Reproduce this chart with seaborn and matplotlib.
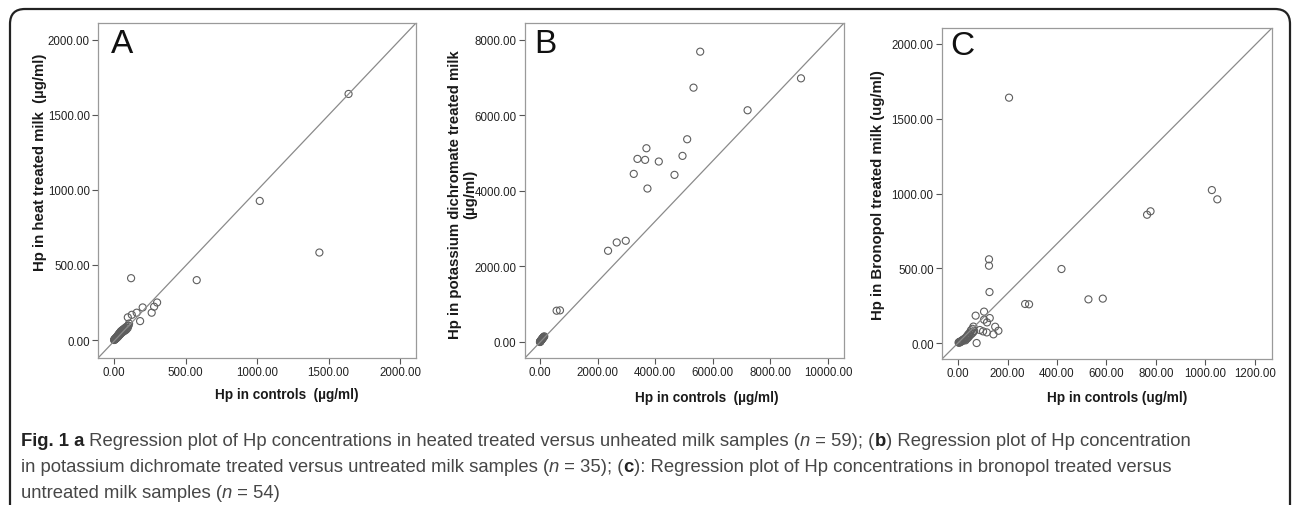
"""
Hp concentrations: treated vs untreated milk (three regression panels + caption).
"""

import numpy as np
import pandas as pd
import seaborn as sns
import matplotlib.pyplot as plt
from matplotlib.patches import FancyBboxPatch

sns.set_style("white")
plt.rcParams['font.family'] = ['Liberation Sans', 'DejaVu Sans']

# Panel A: heat treated vs control (n = 59)
a_ctrl = [1640, 1019, 1436, 119, 578, 301, 280, 263, 200, 182, 158, 124, 96, 100,
          0, 2, 3, 5, 6, 8, 10, 12, 14, 15, 17, 19, 20, 22, 24, 25, 27, 29, 30,
          32, 34, 35, 37, 39, 40, 42, 44, 46, 48, 50, 52, 55, 58, 60, 63, 66, 70,
          74, 78, 82, 86, 90, 95, 100, 105]
a_heat = [1640, 927, 583, 412, 399, 250, 222, 182, 217, 126, 182, 168, 151, 95,
          0, 1, 4, 3, 8, 6, 9, 14, 10, 16, 13, 20, 18, 25, 19, 28, 22, 33, 26,
          38, 30, 42, 34, 45, 36, 50, 40, 55, 44, 60, 48, 62, 52, 68, 56, 72, 60,
          78, 64, 84, 70, 90, 80, 96, 110]

# Panel B: potassium dichromate treated vs control (n = 35)
b_ctrl = [5562, 5330, 9061, 7207, 5110, 4948, 4670, 4125, 3696, 3650, 3731, 3384,
          3256, 2978, 2665, 2364, 579, 695,
          0, 5, 10, 15, 20, 30, 40, 50, 60, 70, 80, 90, 100, 110, 120, 130, 150]
b_treat = [7690, 6737, 6984, 6138, 5370, 4930, 4427, 4780, 5132, 4824, 4065, 4850,
           4453, 2681, 2637, 2416, 829, 838,
           0, 8, 12, 20, 25, 35, 45, 55, 65, 75, 85, 95, 105, 115, 125, 135, 150]

# Panel C: bronopol treated vs control (n = 54)
c_ctrl = [206, 1026, 1048, 764, 778, 418, 527, 585, 271, 287, 125, 125, 127, 105,
          71, 128, 150, 163, 143, 75, 116, 101, 117, 105, 88,
          2, 4, 5, 6, 8, 10, 12, 14, 15, 18, 20, 22, 25, 28, 30, 33, 35, 38, 40,
          42, 45, 48, 50, 52, 55, 58, 60, 62, 65]
c_treat = [1641, 1023, 961, 858, 881, 495, 292, 297, 261, 259, 560, 517, 341, 210,
           183, 167, 109, 82, 58, 0, 71, 78, 138, 156, 87,
           3, 5, 2, 8, 6, 10, 9, 15, 12, 20, 16, 25, 22, 30, 18, 40, 28, 50, 35,
           60, 45, 70, 55, 85, 62, 95, 70, 110, 80]

panels = [
    dict(x=a_ctrl, y=a_heat, letter='A',
         xlim=(-112, 2112), ylim=(-120, 2113),
         xticks=[0, 500, 1000, 1500, 2000], yticks=[0, 500, 1000, 1500, 2000],
         xlabel='Hp in controls  (µg/ml)',
         ylabel='Hp in heat treated milk  (µg/ml)',
         pos=[0.0759, 0.2905, 0.2461, 0.6621],
         xlab=(0.594, -0.107), ylab=(-0.182, 0.588), let=(0.04, 0.985)),
    dict(x=b_ctrl, y=b_treat, letter='B',
         xlim=(-521, 10556), ylim=(-424, 8450),
         xticks=[0, 2000, 4000, 6000, 8000, 10000], yticks=[0, 2000, 4000, 6000, 8000],
         xlabel='Hp in controls  (µg/ml)',
         ylabel='Hp in potassium dichromate treated milk\n(µg/ml)',
         pos=[0.4063, 0.2905, 0.2470, 0.6621],
         xlab=(0.571, -0.116), ylab=(-0.195, 0.49), let=(0.03, 0.985)),
    dict(x=c_ctrl, y=c_treat, letter='C',
         xlim=(-65, 1269), ylim=(-107, 2107),
         xticks=[0, 200, 400, 600, 800, 1000, 1200], yticks=[0, 500, 1000, 1500, 2000],
         xlabel='Hp in controls (ug/ml)',
         ylabel='Hp in Bronopol treated milk (ug/ml)',
         pos=[0.7291, 0.2885, 0.2554, 0.6542],
         xlab=(0.53, -0.115), ylab=(-0.194, 0.498), let=(0.025, 0.995)),
]

fig = plt.figure(figsize=(12.92, 5.06), dpi=100)

# rounded outer frame
frame = FancyBboxPatch((0.10, -0.30), 12.80, 5.26, transform=fig.dpi_scale_trans,
                       boxstyle='round,pad=0,rounding_size=0.15',
                       fc='none', ec='#222222', lw=1.6, clip_on=False)
fig.patches.append(frame)

for p in panels:
    ax = fig.add_axes(p['pos'])
    df = pd.DataFrame({'ctrl': p['x'], 'treated': p['y']})
    sns.scatterplot(data=df, x='ctrl', y='treated', ax=ax, s=26,
                    facecolor='none', edgecolor='#5e5e5e', linewidth=0.8)
    ax.plot([0, 1], [0, 1], transform=ax.transAxes, color='#8a8a8a', lw=0.9, zorder=1)
    ax.set_xlim(*p['xlim'])
    ax.set_ylim(*p['ylim'])
    ax.set_xticks(p['xticks'])
    ax.set_yticks(p['yticks'])
    ax.set_xticklabels([f'{t:.2f}' for t in p['xticks']])
    ax.set_yticklabels([f'{t:.2f}' for t in p['yticks']])
    ax.tick_params(axis='both', direction='out', length=4, width=0.8, color='#555555',
                   labelsize=8.3, labelcolor='#222222', pad=2,
                   bottom=True, left=True)
    for s in ax.spines.values():
        s.set_color('#9a9a9a')
        s.set_linewidth(0.9)
    ax.set_xlabel(p['xlabel'], fontsize=9.8, fontweight='bold', color='#1a1a1a')
    ax.set_ylabel(p['ylabel'], fontsize=10.8, fontweight='bold', color='#1a1a1a',
                  linespacing=1.05)
    ax.xaxis.set_label_coords(*p['xlab'])
    ax.yaxis.set_label_coords(*p['ylab'])
    ax.xaxis.label.set_va('center')
    ax.yaxis.label.set_va('center')
    ax.text(p['let'][0], p['let'][1], p['letter'], transform=ax.transAxes,
            ha='left', va='top', fontsize=24, color='#111111')

# caption, drawn piece by piece so bold / italic runs sit on one line
caption = [
    [("Fig. 1 a", 'bold', 'normal'),
     (" Regression plot of Hp concentrations in heated treated versus unheated milk samples (", 'normal', 'normal'),
     ("n", 'normal', 'italic'), (" = 59); (", 'normal', 'normal'), ("b", 'bold', 'normal'),
     (") Regression plot of Hp concentration", 'normal', 'normal')],
    [("in potassium dichromate treated versus untreated milk samples (", 'normal', 'normal'),
     ("n", 'normal', 'italic'), (" = 35); (", 'normal', 'normal'), ("c", 'bold', 'normal'),
     ("): Regression plot of Hp concentrations in bronopol treated versus", 'normal', 'normal')],
    [("untreated milk samples (", 'normal', 'normal'), ("n", 'normal', 'italic'),
     (" = 54)", 'normal', 'normal')],
]
line_y = [0.111, 0.059, 0.008]
cap_size = 13.3
for segs, y in zip(caption, line_y):
    last = None
    for txt, wt, st in segs:
        color = '#222222' if wt == 'bold' else '#474747'
        if last is None:
            last = fig.text(0.016, y, txt, fontsize=cap_size, fontweight=wt, style=st,
                            color=color, ha='left', va='bottom')
        else:
            last = fig.axes[0].annotate(txt, xy=(1, 0), xycoords=last, xytext=(0, 0),
                                        textcoords='offset points', fontsize=cap_size,
                                        fontweight=wt, style=st, color=color,
                                        ha='left', va='bottom', annotation_clip=False)

fig.savefig('out.png', dpi=100)
